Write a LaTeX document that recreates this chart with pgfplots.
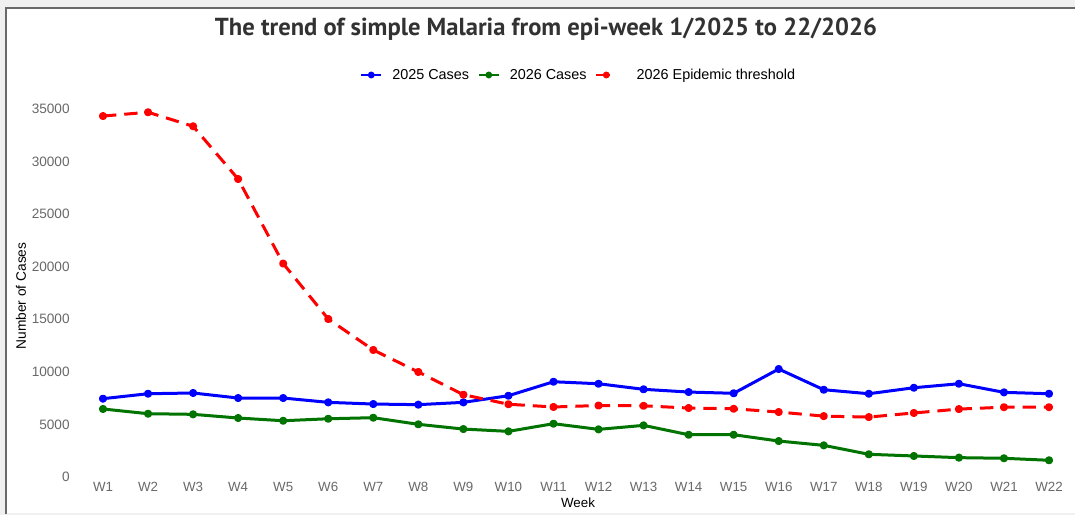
\documentclass[border=0pt]{standalone}
\usepackage{fontspec}
\setmainfont{Liberation Sans}
\newfontfamily\titlefont{PT Sans}
\usepackage{pgfplots}
\pgfplotsset{compat=1.18}
\usepackage{graphicx}
\definecolor{cA}{RGB}{0,0,255}
\definecolor{cB}{RGB}{0,115,0}
\definecolor{cC}{RGB}{255,0,0}
\definecolor{ticklab}{RGB}{105,105,105}
\definecolor{titlecol}{RGB}{50,50,50}
\definecolor{framecol}{RGB}{105,105,105}
\definecolor{outbg}{RGB}{240,240,240}

\pgfplotstableread{
wk c2025 c2026 thr
1  7450 6470 34330
2  7920 6020 34690
3  7990 5960 33360
4  7510 5610 28340
5  7510 5350 20300
6  7100 5540 15030
7  6940 5640 12080
8  6880 5010 9990
9  7100 4560 7830
10 7730 4340 6920
11 9060 5070 6660
12 8870 4530 6800
13 8340 4910 6770
14 8080 4020 6560
15 7960 4020 6490
16 10270 3420 6180
17 8300 3010 5790
18 7920 2160 5700
19 8490 2000 6090
20 8870 1840 6460
21 8050 1780 6640
22 7920 1590 6640
}\datatable

\begin{document}
\begin{tikzpicture}
\useasboundingbox (0,0) rectangle (806.25pt,386.25pt);
\begin{scope}[shift={(0,386.25pt)},x=0.75pt,y=-0.75pt]
\fill[outbg] (0,0) rectangle (1075,515);
\fill[white] (6,8) rectangle (1075,513);
\draw[line width=1.6pt, framecol] (6,514) -- (6,8) -- (1075,8);
\node[text=titlecol, inner sep=0pt] at (546,29) {\resizebox{496.5pt}{!}{\titlefont\bfseries The trend of simple Malaria from epi-week 1/2025 to 22/2026}};
\node[rotate=90, inner sep=0pt] at (21,296) {\fontsize{10.3}{12}\selectfont Number of Cases};
\node[inner sep=0pt] at (578,503) {\fontsize{10}{12}\selectfont Week};
\end{scope}
\begin{axis}[
  at={(77.25pt,28.5pt)}, anchor=south west,
  scale only axis, width=709.5pt, height=276pt,
  xmin=1, xmax=22, ymin=0, ymax=35000,
  clip=false,
  axis line style={draw=none},
  major tick length=0pt,
  xtick={1,...,22},
  xticklabels={W1,W2,W3,W4,W5,W6,W7,W8,W9,W10,W11,W12,W13,W14,W15,W16,W17,W18,W19,W20,W21,W22},
  ytick={0,5000,10000,15000,20000,25000,30000,35000},
  scaled y ticks=false,
  /pgf/number format/assume math mode=true,
  /pgf/number format/1000 sep={},
  yticklabel style={text=ticklab, font=\fontsize{10.2}{12}\selectfont, xshift=-21.5pt},
  xticklabel style={text=ticklab, font=\fontsize{10}{12}\selectfont, yshift=-0.6pt},
  legend columns=-1,
  legend image code/.code={\draw[mark repeat=2,mark phase=2,#1,line width=1.5pt,mark size=1.8pt] plot coordinates {(0pt,0pt) (7.5pt,0pt) (15pt,0pt)};},
  legend style={draw=none, fill=none, at={(0.5032,1.0924)}, anchor=center,
    font=\fontsize{10.8}{12}\selectfont,
    /tikz/every odd column/.append style={column sep=5.5pt},
    /tikz/every even column/.append style={column sep=4.5pt}},
  every axis plot/.append style={line width=2.25pt, mark=*, mark size=1.9pt, line join=round},
]
\addplot[cA, mark options={solid}] table[x=wk, y=c2025] {\datatable};
\addlegendentry{2025 Cases}
\addplot[cB, mark options={solid}] table[x=wk, y=c2026] {\datatable};
\addlegendentry{2026 Cases}
\addplot[cC, dash pattern=on 10pt off 6pt, mark options={solid}] table[x=wk, y=thr] {\datatable};
\addlegendentry{\hspace{7pt}2026 Epidemic threshold}
\end{axis}
\end{tikzpicture}
\end{document}
